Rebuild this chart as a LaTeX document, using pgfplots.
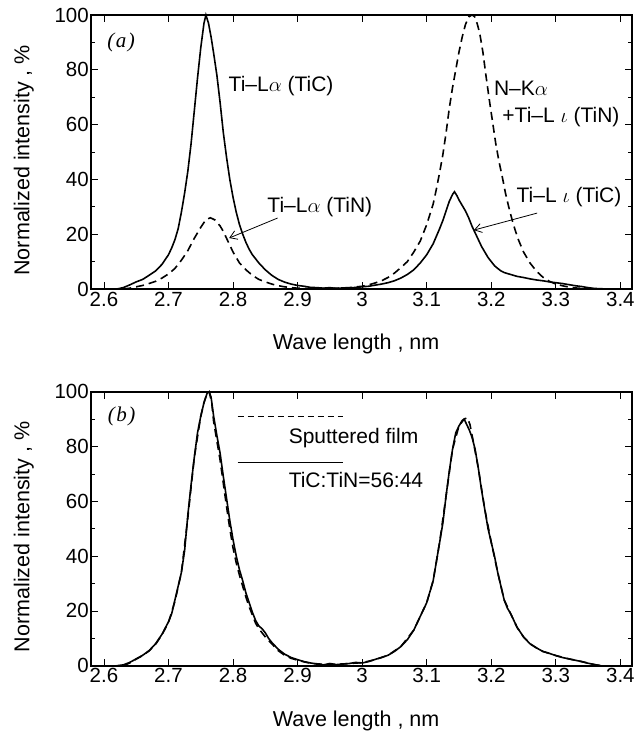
\documentclass[border=0pt]{standalone}
\usepackage{pgfplots}
\pgfplotsset{compat=1.18}
\usepackage{fontspec}
\setmainfont{Liberation Sans}
\newfontfamily\seriffont{Liberation Serif}
\usetikzlibrary{arrows.meta}
\newcommand{\lab}{\fontsize{21.5bp}{25bp}\selectfont}
\newcommand{\ann}{\fontsize{21bp}{25bp}\selectfont}
\begin{document}
\begin{tikzpicture}
\pgfplotsset{
  myax/.style={
    width=541bp, height=274bp, scale only axis,
    xmin=2.58, xmax=3.418, ymin=0, ymax=100,
    xtick={2.6,2.7,2.8,2.9,3,3.1,3.2,3.3,3.4},
    ytick={0,20,40,60,80,100},
    minor ytick={10,30,50,70,90},
    tick align=inside,
    major tick length=7bp, minor tick length=4bp,
    axis line style={line width=1.8bp},
    every tick/.style={black, line width=0.8bp},
    tick label style={font=\fontsize{20.5bp}{24bp}\selectfont},
    /pgf/number format/assume math mode=true,
    yticklabel style={inner sep=2bp},
    xticklabel style={inner sep=2.5bp},
    xlabel={Wave length , nm},
    ylabel={Normalized intensity , \%},
    label style={font=\lab},
    xlabel style={at={(axis description cs:0.49,-0.2)}, anchor=center},
    ylabel style={at={(axis description cs:-0.124,0.47)}, anchor=center},
    clip=false,
  },
  solidc/.style={black, line width=1.6bp},
  dashc/.style={black, line width=1.6bp, dash pattern=on 8bp off 5bp},
}
% ---------------- panel (a) ----------------
\begin{axis}[myax, at={(0,0)}, anchor=north west]
\addplot[solidc] coordinates {
(2.620,0) (2.630,0.5) (2.640,1.5) (2.650,2.6) (2.660,3.5) (2.670,5.0) (2.680,6.6)
(2.690,9.0) (2.700,12.5) (2.705,15) (2.710,18) (2.715,22) (2.720,28) (2.725,35)
(2.730,43) (2.735,53) (2.740,65) (2.745,77) (2.750,88) (2.755,97) (2.758,100)
(2.762,97) (2.766,92) (2.770,86) (2.775,78) (2.780,68) (2.785,57) (2.790,48)
(2.795,40) (2.800,33.5) (2.805,28) (2.810,23.5) (2.815,20) (2.820,17) (2.825,14.5)
(2.830,12.5) (2.835,11) (2.840,9.5) (2.850,7) (2.860,5) (2.870,3.5) (2.880,2.5)
(2.890,1.8) (2.900,1.3) (2.910,1.0) (2.920,0.6) (2.930,0.5) (2.940,0.3) (2.950,0.5)
(2.960,0.2) (2.970,0.4) (2.980,0.3) (2.990,0.6) (3.000,0.8) (3.010,1.0) (3.020,1.4)
(3.030,1.8) (3.040,2.3) (3.050,3.0) (3.060,4.0) (3.070,5.3) (3.080,7.0) (3.090,9.5)
(3.100,12.5) (3.110,16.5) (3.120,22) (3.125,25) (3.130,28.5) (3.135,32) (3.140,34.5)
(3.143,35.5) (3.147,34) (3.150,32.5) (3.155,30.5) (3.160,28.5) (3.165,26) (3.170,23)
(3.175,20.5) (3.180,18) (3.185,15.5) (3.190,13.5) (3.195,11.5) (3.200,10) (3.205,8.5)
(3.210,7.5) (3.215,6.6) (3.220,6.0) (3.230,5.3) (3.240,4.6) (3.250,4.2) (3.260,3.7)
(3.270,3.3) (3.280,3.0) (3.290,2.6) (3.300,2.3) (3.310,2.0) (3.320,1.6) (3.330,1.2)
(3.340,0.9) (3.350,0.5) (3.360,0.2) (3.370,0.1) (3.380,0)
};
\addplot[dashc] coordinates {
(2.630,0) (2.640,0.3) (2.650,0.8) (2.660,1.3) (2.670,2.0) (2.680,2.8) (2.690,4.0)
(2.700,5.5) (2.710,7.5) (2.720,10.5) (2.730,14) (2.740,18.5) (2.750,22.5) (2.758,25.3)
(2.765,26) (2.772,25.2) (2.780,23) (2.785,21) (2.790,18.5) (2.795,16) (2.800,13.5)
(2.810,9.5) (2.820,7) (2.830,5) (2.840,3.5) (2.850,2.6) (2.860,1.8) (2.870,1.2)
(2.880,0.8) (2.890,0.5) (2.900,0.3) (2.920,0.2) (2.950,0.2) (2.980,0.5) (3.000,1.0)
(3.010,1.5) (3.020,2.2) (3.030,3.0) (3.040,4.2) (3.050,5.8) (3.060,7.8) (3.070,10)
(3.080,13.5) (3.090,17.5) (3.100,23.5) (3.110,31) (3.115,36.5) (3.120,42.5) (3.125,49)
(3.130,57) (3.135,66) (3.140,73.5) (3.145,80) (3.150,86.5) (3.155,92) (3.160,96.5)
(3.165,99.3) (3.170,100) (3.174,99.5) (3.178,97) (3.182,93.5) (3.187,86.5) (3.192,77.5)
(3.197,69) (3.202,61) (3.207,53) (3.212,46.5) (3.217,41) (3.222,35) (3.227,30)
(3.232,25.5) (3.237,21.5) (3.242,18) (3.250,13.5) (3.260,9.5) (3.270,6.5) (3.280,4.3)
(3.290,2.8) (3.300,1.8) (3.310,1.2) (3.320,0.7) (3.330,0.4) (3.340,0.2) (3.350,0)
};
\node[anchor=west, inner sep=0, font=\ann\seriffont\itshape] at (axis cs:2.605,89.8) {(\kern1.5bp a\kern1.5bp)};
\node[anchor=west, inner sep=0, font=\ann] at (axis cs:2.793,74) {Ti–L$\alpha$ (TiC)};
\node[anchor=west, inner sep=0, font=\ann] at (axis cs:2.853,30) {Ti–L$\alpha$ (TiN)};
\node[anchor=west, inner sep=0, font=\ann] at (axis cs:3.204,73.3) {N–K$\alpha$};
\node[anchor=west, inner sep=0, font=\ann] at (axis cs:3.217,62.9) {+Ti–L $\iota$ (TiN)};
\node[anchor=west, inner sep=0, font=\ann] at (axis cs:3.239,33.7) {Ti–L $\iota$ (TiC)};
\draw[line width=0.8bp, -{Straight Barb[length=7bp,width=9bp]}] (axis cs:2.869,25.9) -- (axis cs:2.794,18.6);
\draw[line width=0.8bp, -{Straight Barb[length=7bp,width=9bp]}] (axis cs:3.271,27.7) -- (axis cs:3.173,21.5);
\end{axis}
% ---------------- panel (b) ----------------
\begin{axis}[myax, at={(0,-376.7bp)}, anchor=north west]
\addplot[solidc] coordinates {
(2.620,0) (2.630,0.3) (2.640,1.2) (2.650,2.5) (2.660,3.8) (2.670,5.5) (2.680,8)
(2.690,11.5) (2.700,16) (2.705,19) (2.710,24) (2.715,29) (2.720,34) (2.725,42)
(2.730,55) (2.735,66) (2.740,76) (2.745,85) (2.750,91) (2.755,96) (2.760,99.5)
(2.763,100) (2.766,98) (2.770,91) (2.775,84) (2.780,77.5) (2.785,69) (2.790,61)
(2.795,53) (2.800,46) (2.805,40) (2.810,35) (2.815,31) (2.820,26.5) (2.825,23)
(2.830,19.5) (2.835,16.5) (2.840,14.5) (2.845,13.5) (2.850,12) (2.855,10) (2.860,8.5)
(2.870,6) (2.880,4.2) (2.890,3) (2.900,2.2) (2.910,1.5) (2.920,1) (2.930,0.6)
(2.940,0.3) (2.950,0.8) (2.960,0.4) (2.970,0.6) (2.980,0.8) (2.990,1.2) (3.000,1.0)
(3.010,1.5) (3.020,2.3) (3.030,3.0) (3.040,3.8) (3.050,5.2) (3.060,7) (3.070,9.5)
(3.080,13) (3.090,18) (3.100,23) (3.105,27) (3.110,31) (3.115,38) (3.120,45)
(3.125,52) (3.130,62) (3.135,71) (3.140,79) (3.145,85) (3.150,87.5) (3.155,89.5)
(3.158,90) (3.162,88) (3.166,86) (3.170,83.5) (3.175,79) (3.180,72) (3.185,64)
(3.190,57) (3.195,50) (3.200,45) (3.205,40) (3.210,34) (3.215,29) (3.220,24)
(3.225,21) (3.230,19) (3.240,14) (3.250,10.5) (3.260,8) (3.270,6.5) (3.280,5.2)
(3.290,4.5) (3.300,3.7) (3.310,3.0) (3.320,2.5) (3.330,2.0) (3.340,1.5) (3.350,0.9)
(3.360,0.4) (3.370,0)
};
\addplot[dashc] coordinates {
(2.630,0) (2.640,1.0) (2.650,2.4) (2.660,3.7) (2.670,5.4) (2.680,7.8) (2.690,11.3)
(2.700,15.8) (2.710,23.5) (2.720,34) (2.730,54) (2.740,76) (2.750,91) (2.755,96)
(2.760,99.5) (2.763,100) (2.767,96) (2.770,89) (2.775,82) (2.780,75) (2.785,66.5)
(2.790,58) (2.795,50) (2.800,43) (2.805,37.5) (2.810,33) (2.815,29) (2.820,25)
(2.825,21.5) (2.830,18.5) (2.835,15.5) (2.840,13.5) (2.850,10.5) (2.860,8)
(2.870,5.5) (2.880,3.8) (2.890,2.7) (2.900,2.0) (2.910,1.4) (2.920,0.9) (2.940,0.5)
(2.960,0.5) (2.980,0.8) (3.000,1.1) (3.020,2.2) (3.040,3.8) (3.060,7) (3.080,13)
(3.090,18) (3.100,23) (3.110,31) (3.120,45) (3.130,62) (3.140,79) (3.150,87.5)
(3.158,90) (3.163,90.5) (3.167,88) (3.172,82) (3.180,72) (3.190,57) (3.200,45)
(3.210,34) (3.220,24) (3.230,19) (3.240,14) (3.250,10.5) (3.260,8) (3.270,6.5)
(3.280,5.2) (3.290,4.5) (3.300,3.7) (3.320,2.5) (3.340,1.5) (3.360,0.4) (3.370,0)
};
\node[anchor=west, inner sep=0, font=\ann\seriffont\itshape] at (axis cs:2.606,90.9) {(\kern1.5bp b\kern1.5bp)};
\draw[line width=1bp, dash pattern=on 6bp off 4bp] (axis cs:2.807,90.8) -- (axis cs:2.971,90.8);
\node[anchor=west, inner sep=0, font=\ann] at (axis cs:2.886,83) {Sputtered film};
\draw[line width=1bp] (axis cs:2.807,74.3) -- (axis cs:2.971,74.3);
\node[anchor=west, inner sep=0, font=\ann] at (axis cs:2.886,67.6) {TiC:TiN=56:44};
\end{axis}
\pgfresetboundingbox
\path[use as bounding box] (-91bp,15bp) rectangle (545bp,-716bp);
\end{tikzpicture}
\end{document}
